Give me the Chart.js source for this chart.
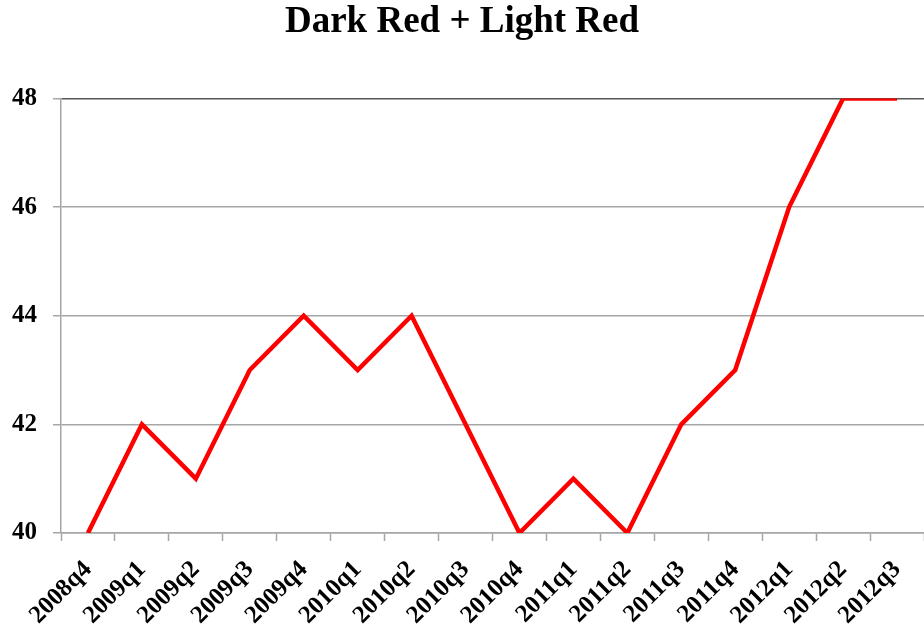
<!DOCTYPE html>
<html>
<head>
<meta charset="utf-8">
<script src="https://cdn.jsdelivr.net/npm/chart.js@4"></script>
<style>
  html, body { margin: 0; padding: 0; background: #fff; overflow: hidden; }
</style>
</head>
<body>
<canvas id="myChart" width="924" height="631"></canvas>
<script>
var quarters = ["2008q4", "2009q1", "2009q2", "2009q3", "2009q4", "2010q1", "2010q2", "2010q3",
                "2010q4", "2011q1", "2011q2", "2011q3", "2011q4", "2012q1", "2012q2", "2012q3"];
var redValues = [40, 42, 41, 43, 44, 43, 44, 42, 40, 41, 40, 42, 43, 46, 48, 48];
var yTicks = [40, 42, 44, 46, 48];

var serif = "'Liberation Serif', 'Times New Roman', serif";

var chart = new Chart("myChart", {
    type: "line",
    data: {
        labels: quarters,
        datasets: [{
            data: redValues,
            borderColor: "#ff0000",
            borderWidth: 4.5,
            pointRadius: 0,
            tension: 0,
            fill: false
        }]
    },
    options: {
        responsive: false,
        animation: false,
        layout: { padding: { left: 0, right: 0, top: 0, bottom: 0 } },
        plugins: {
            legend: { display: false },
            tooltip: { enabled: false },
            title: {
                display: true,
                text: "Dark Red + Light Red",
                color: "#000",
                font: { family: serif, size: 37, weight: "bold", lineHeight: 1.2 },
                padding: { top: 0, bottom: 54 }
            }
        },
        scales: {
            x: {
                offset: true,
                grid: {
                    offset: true,
                    drawOnChartArea: false,
                    drawTicks: true,
                    tickLength: 8,
                    tickColor: "#a6a6a6",
                    tickWidth: 1.5
                },
                border: { display: true, color: "#a6a6a6", width: 1.5 },
                ticks: {
                    color: "#000",
                    font: { family: serif, size: 25, weight: "bold" },
                    minRotation: 45,
                    maxRotation: 45,
                    autoSkip: false,
                    padding: 14
                },
                afterFit: function (scale) {
                    scale.height = 98;
                    scale.paddingRight = 0;
                },
                afterUpdate: function (scale) {
                    // let the plot run to the right edge, as in the source image
                    scale.right = 925;
                    scale.width = scale.right - scale.left;
                }
            },
            y: {
                min: 40,
                max: 48,
                afterBuildTicks: function (scale) {
                    scale.ticks = yTicks.map(function (v) { return { value: v }; });
                },
                grid: {
                    color: function (ctx) { return ctx.tick && ctx.tick.value === 48 ? "#555" : "#a6a6a6"; },
                    lineWidth: 1.5,
                    drawTicks: true,
                    tickLength: 8,
                    tickColor: "#a6a6a6"
                },
                border: { display: true, color: "#a6a6a6", width: 1.5 },
                ticks: {
                    color: "#000",
                    font: { family: serif, size: 25, weight: "bold" },
                    padding: 16
                },
                afterFit: function (scale) { scale.width = 61; }
            }
        }
    }
});
</script>
</body>
</html>
